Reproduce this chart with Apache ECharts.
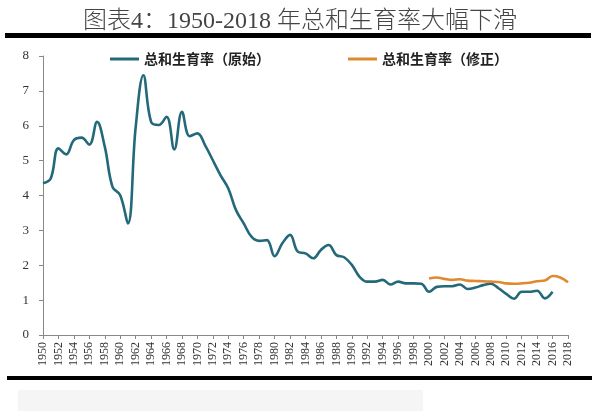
<!DOCTYPE html>
<html><head><meta charset="utf-8">
<script src="https://cdn.jsdelivr.net/npm/echarts@6/dist/echarts.min.js"></script>
<style>html,body{margin:0;padding:0;background:#fff}#c{width:600px;height:411px}</style>
</head><body><div id="c"></div>
<script>
var years = [];
for (var y = 1950; y <= 2018; y++) years.push(String(y));
var tfrOriginal = [4.35,4.49,5.35,5.18,5.59,5.66,5.46,6.11,5.40,4.25,4.01,3.20,5.95,7.45,6.11,6.02,6.26,5.32,6.40,5.70,5.78,5.44,5.01,4.58,4.20,3.58,3.20,2.82,2.70,2.72,2.26,2.63,2.87,2.39,2.34,2.20,2.44,2.58,2.29,2.23,2.01,1.67,1.53,1.53,1.58,1.45,1.53,1.48,1.48,1.47,1.24,1.38,1.40,1.40,1.45,1.32,1.36,1.43,1.47,1.34,1.18,1.04,1.24,1.24,1.27,1.05,1.24,null,null];
var tfrRevised = [];
for (var i = 0; i < 50; i++) tfrRevised.push(null);
tfrRevised = tfrRevised.concat([1.62,1.65,1.61,1.58,1.60,1.56,1.55,1.54,1.53,1.52,1.48,1.47,1.48,1.50,1.54,1.56,1.69,1.65,1.51]);
var yTicks = [0,1,2,3,4,5,6,7,8];
var titleText = '图表4：1950-2018 年总和生育率大幅下滑';
var nameOriginal = '总和生育率（原始）';
var nameRevised = '总和生育率（修正）';

var serif = '"Liberation Serif","Noto Sans CJK SC",serif';
var chart = echarts.init(document.getElementById('c'));
chart.setOption({
  animation: false,
  backgroundColor: '#fff',
  title: {
    text: titleText, left: 'center', top: 5,
    textStyle: {fontFamily: serif, fontSize: 24, fontWeight: 300, color: '#444'}
  },
  legend: [{
    data: [nameOriginal], left: 105, top: 47, itemWidth: 29, itemHeight: 3, itemGap: 0,
    icon: 'rect',
    textStyle: {fontFamily: '"Noto Sans CJK SC"', fontSize: 14, color: '#222', fontWeight: 'bold'}
  },{
    data: [nameRevised], left: 343, top: 47, itemWidth: 29, itemHeight: 3, itemGap: 0,
    icon: 'rect',
    textStyle: {fontFamily: '"Noto Sans CJK SC"', fontSize: 14, color: '#222', fontWeight: 'bold'}
  }],
  grid: {left: 43, right: 32, top: 56, bottom: 76},
  xAxis: {
    type: 'category', data: years, boundaryGap: false,
    axisLine: {lineStyle: {color: '#888', width: 1}},
    axisTick: {interval: 1, length: 4, lineStyle: {color: '#888'}},
    axisLabel: {interval: 1, rotate: 90, fontFamily: serif, fontSize: 12, color: '#333', margin: 7}
  },
  yAxis: {
    type: 'value', min: yTicks[0], max: yTicks[yTicks.length-1], interval: 1,
    axisLine: {show: true, lineStyle: {color: '#888', width: 1}},
    axisTick: {show: true, length: 4, lineStyle: {color: '#888'}},
    splitLine: {show: false},
    axisLabel: {fontFamily: serif, fontSize: 13, color: '#333', margin: 14}
  },
  series: [{
    name: nameOriginal, type: 'line', data: tfrOriginal, smooth: 0.4, showSymbol: false,
    lineStyle: {color: '#23697a', width: 2.6}, itemStyle: {color: '#23697a'}
  },{
    name: nameRevised, type: 'line', data: tfrRevised, smooth: 0.4, showSymbol: false,
    lineStyle: {color: '#e0892e', width: 2.6}, itemStyle: {color: '#e0892e'}
  }],
  graphic: [
    {type: 'rect', shape: {x: 5, y: 33, width: 586, height: 5}, style: {fill: '#000'}},
    {type: 'rect', shape: {x: 7, y: 376, width: 585, height: 4}, style: {fill: '#000'}},
    {type: 'rect', shape: {x: 18, y: 390, width: 405, height: 21}, style: {fill: '#f5f5f5'}}
  ]
});
</script></body></html>
